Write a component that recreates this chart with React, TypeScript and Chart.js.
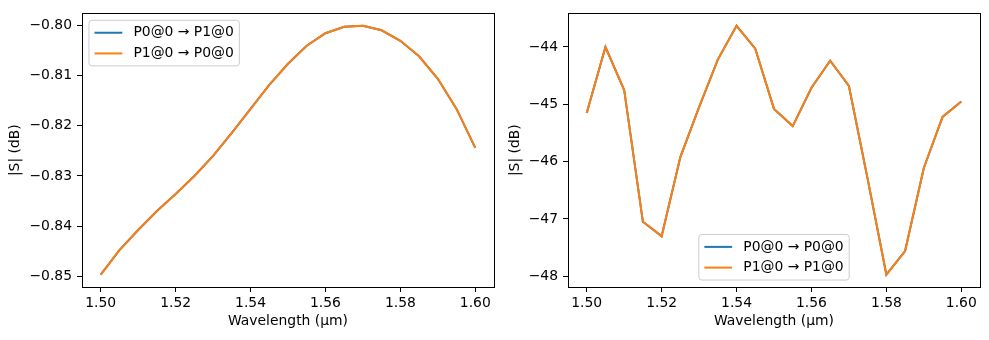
import React, { useEffect, useRef } from "react";
import { Chart, registerables } from "chart.js";

Chart.register(...registerables);

// ---------- data ----------
const wavelengths = [
  1.5, 1.505, 1.51, 1.515, 1.52, 1.525, 1.53, 1.535, 1.54, 1.545, 1.55,
  1.555, 1.56, 1.565, 1.57, 1.575, 1.58, 1.585, 1.59, 1.595, 1.6,
];
const transP0toP1 = [
  -0.8497, -0.8448, -0.8408, -0.837, -0.8336, -0.83, -0.826, -0.8214,
  -0.8166, -0.8118, -0.8076, -0.804, -0.8015, -0.8002, -0.8, -0.8009,
  -0.803, -0.8061, -0.8106, -0.8166, -0.8244,
];
const transP1toP0 = [
  -0.8497, -0.8448, -0.8408, -0.837, -0.8336, -0.83, -0.826, -0.8214,
  -0.8166, -0.8118, -0.8076, -0.804, -0.8015, -0.8002, -0.8, -0.8009,
  -0.803, -0.8061, -0.8106, -0.8166, -0.8244,
];
const reflP0toP0 = [
  -45.15, -44.0, -44.75, -47.05, -47.3, -45.92, -45.05, -44.22, -43.63,
  -44.03, -45.08, -45.38, -44.71, -44.24, -44.68, -46.3, -47.97, -47.56,
  -46.11, -45.22, -44.95,
];
const reflP1toP1 = [
  -45.15, -44.0, -44.75, -47.05, -47.3, -45.92, -45.05, -44.22, -43.63,
  -44.03, -45.08, -45.38, -44.71, -44.24, -44.68, -46.3, -47.97, -47.56,
  -46.11, -45.22, -44.95,
];
const xTickValues = [1.5, 1.52, 1.54, 1.56, 1.58, 1.6];
const leftYTickValues = [-0.85, -0.84, -0.83, -0.82, -0.81, -0.8];
const rightYTickValues = [-48, -47, -46, -45, -44];

const labelsLeft = ["P0@0 \u2192 P1@0", "P1@0 \u2192 P0@0"];
const labelsRight = ["P0@0 \u2192 P0@0", "P1@0 \u2192 P1@0"];

const BLUE = "#1f77b4";
const ORANGE = "#ff7f0e";
const FONT = '"DejaVu Sans"';
const FS = 13.9;

const fmtMinus = (s: string) => s.replace("-", "\u2212");

// ---------- plugins ----------
const frameBox = {
  id: "frameBox",
  afterDatasetsDraw(chart: any) {
    const { ctx, chartArea } = chart;
    ctx.save();
    ctx.strokeStyle = "#000";
    ctx.lineWidth = 1;
    ctx.strokeRect(
      Math.round(chartArea.left) + 0.5,
      Math.round(chartArea.top) + 0.5,
      Math.round(chartArea.right - chartArea.left),
      Math.round(chartArea.bottom - chartArea.top)
    );
    ctx.restore();
  },
};

const boxLegend = {
  id: "boxLegend",
  afterDraw(chart: any, _args: any, opts: any) {
    const { ctx, chartArea } = chart;
    ctx.save();
    ctx.font = `${FS}px ${FONT}`;
    const items = chart.data.datasets.map((d: any) => ({
      label: d.label as string,
      color: d.borderColor as string,
    }));
    const pad = 0.4 * FS;
    const handle = 2 * FS;
    const gap = 0.8 * FS;
    const spacing = 0.5 * FS;
    const axpad = 0.5 * FS;
    const rowH = FS * 0.99;
    const textW = Math.max(...items.map((i: any) => ctx.measureText(i.label).width));
    const w = pad * 2 + handle + gap + textW;
    const h = pad * 2 + items.length * rowH + (items.length - 1) * spacing;
    let x: number;
    let y: number;
    if (opts.loc === "upper left") {
      x = chartArea.left + axpad;
      y = chartArea.top + axpad;
    } else {
      x = (chartArea.left + chartArea.right) / 2 - w / 2;
      y = chartArea.bottom - axpad - h;
    }
    ctx.fillStyle = "rgba(255,255,255,0.8)";
    ctx.strokeStyle = "#cccccc";
    ctx.lineWidth = 1;
    ctx.beginPath();
    (ctx as any).roundRect(x, y, w, h, 3);
    ctx.fill();
    ctx.stroke();
    items.forEach((it: any, i: number) => {
      const cy = y + pad + rowH / 2 + i * (rowH + spacing);
      ctx.strokeStyle = it.color;
      ctx.lineWidth = 2;
      ctx.beginPath();
      ctx.moveTo(x + pad, cy);
      ctx.lineTo(x + pad + handle, cy);
      ctx.stroke();
      ctx.fillStyle = "#000";
      ctx.textBaseline = "middle";
      ctx.textAlign = "left";
      ctx.fillText(it.label, x + pad + handle + gap, cy);
    });
    ctx.restore();
  },
};

// ---------- chart builder ----------
function makeConfig(p: {
  a: number[];
  b: number[];
  labels: string[];
  yTicks: number[];
  yMin: number;
  yMax: number;
  yDecimals: number;
  yWidth: number;
  yTitlePad: number;
  rightPad: number;
  loc: string;
}) {
  const toPts = (arr: number[]) => wavelengths.map((w, i) => ({ x: w, y: arr[i] }));
  const tickFont = { family: FONT, size: FS, lineHeight: 1.2 };
  return {
    type: "line" as const,
    data: {
      datasets: [
        {
          label: p.labels[0],
          data: toPts(p.a),
          borderColor: BLUE,
          backgroundColor: BLUE,
          borderWidth: 2,
          pointRadius: 0,
          tension: 0,
          order: 1,
        },
        {
          label: p.labels[1],
          data: toPts(p.b),
          borderColor: ORANGE,
          backgroundColor: ORANGE,
          borderWidth: 2,
          pointRadius: 0,
          tension: 0,
          order: 0,
        },
      ],
    },
    options: {
      responsive: false,
      animation: false,
      devicePixelRatio: 1,
      layout: { padding: { top: 10, right: p.rightPad, bottom: 0, left: 0 } },
      plugins: {
        legend: { display: false },
        tooltip: { enabled: false },
        boxLegend: { loc: p.loc },
      },
      scales: {
        x: {
          type: "linear",
          min: 1.495,
          max: 1.605,
          afterBuildTicks: (s: any) => {
            s.ticks = xTickValues.map((v) => ({ value: v }));
          },
          afterFit: (s: any) => {
            s.height = 53;
          },
          ticks: {
            autoSkip: false,
            maxRotation: 0,
            color: "#000",
            font: tickFont,
            padding: 3,
            callback: (v: any) => Number(v).toFixed(2),
          },
          grid: {
            display: true,
            drawOnChartArea: false,
            drawTicks: true,
            tickLength: 5,
            color: "#000",
          },
          border: { display: false },
          title: {
            display: true,
            text: "Wavelength (\u00b5m)",
            color: "#000",
            font: tickFont,
            padding: { top: 0, bottom: 10 },
          },
        },
        y: {
          type: "linear",
          min: p.yMin,
          max: p.yMax,
          afterBuildTicks: (s: any) => {
            s.ticks = p.yTicks.map((v) => ({ value: v }));
          },
          afterFit: (s: any) => {
            s.width = p.yWidth;
          },
          ticks: {
            autoSkip: false,
            color: "#000",
            font: tickFont,
            padding: 5,
            callback: (v: any) => fmtMinus(Number(v).toFixed(p.yDecimals)),
          },
          grid: {
            display: true,
            drawOnChartArea: false,
            drawTicks: true,
            tickLength: 5,
            color: "#000",
          },
          border: { display: false },
          title: {
            display: true,
            text: "|S| (dB)",
            color: "#000",
            font: tickFont,
            padding: { top: p.yTitlePad, bottom: 0 },
          },
        },
      },
    },
    plugins: [frameBox, boxLegend],
  };
}

function ChartCanvas({ config, width, left }: { config: any; width: number; left: number }) {
  const ref = useRef<HTMLCanvasElement | null>(null);
  useEffect(() => {
    if (!ref.current) return;
    const chart = new Chart(ref.current, config);
    return () => chart.destroy();
  }, [config]);
  return (
    <canvas
      ref={ref}
      width={width}
      height={340}
      style={{ position: "absolute", left, top: 0, width, height: 340, display: "block" }}
    />
  );
}

const leftConfig = makeConfig({
  a: transP0toP1,
  b: transP1toP0,
  labels: labelsLeft,
  yTicks: leftYTickValues,
  yMin: -0.85218,
  yMax: -0.79752,
  yDecimals: 2,
  yWidth: 82,
  yTitlePad: 6.6,
  rightPad: 1,
  loc: "upper left",
});

const rightConfig = makeConfig({
  a: reflP0toP0,
  b: reflP1toP1,
  labels: labelsRight,
  yTicks: rightYTickValues,
  yMin: -48.187,
  yMax: -43.413,
  yDecimals: 0,
  yWidth: 73,
  yTitlePad: 12.3,
  rightPad: 9,
  loc: "lower center",
});

export default function App() {
  return (
    <div
      style={{
        position: "absolute",
        left: 0,
        top: 0,
        width: 989,
        height: 340,
        background: "#fff",
        overflow: "hidden",
      }}
    >
      <ChartCanvas config={leftConfig} width={495} left={0} />
      <ChartCanvas config={rightConfig} width={494} left={495} />
    </div>
  );
}
